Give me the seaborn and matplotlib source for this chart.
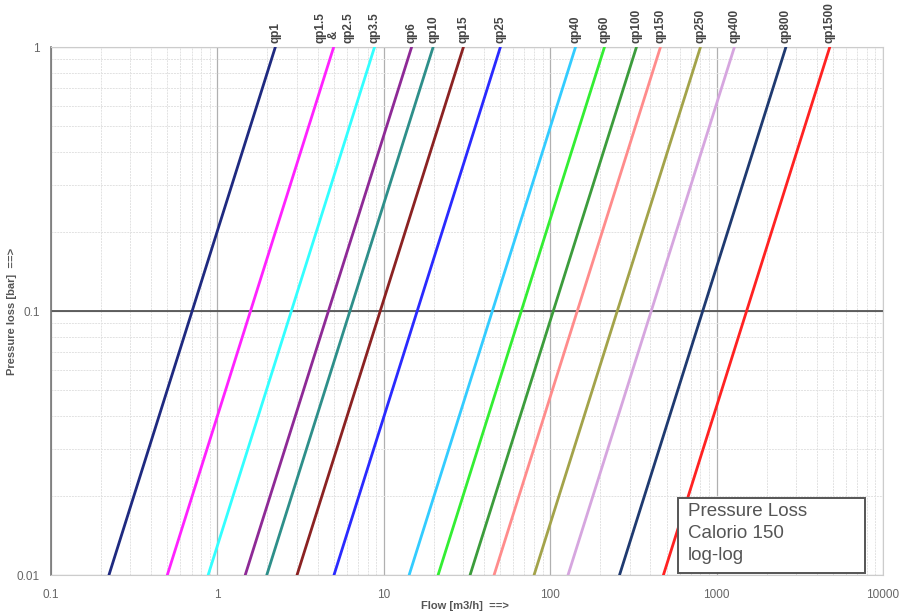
import numpy as np
import pandas as pd
import seaborn as sns
import matplotlib.pyplot as plt
from matplotlib.patches import Rectangle
from matplotlib.ticker import LogLocator, FixedLocator, FixedFormatter, NullFormatter

# meter sizes and flow [m3/h] read at 0.01 bar and at 1 bar
meters = ["qp1", "qp1.5 & qp2.5", "qp3.5", "qp6", "qp10", "qp15", "qp25",
          "qp40", "qp60", "qp100", "qp150", "qp250", "qp400", "qp800", "qp1500"]
flow_low = [0.223, 0.50, 0.88, 1.47, 1.98, 3.01, 5.02,
            14.2, 21.2, 33.0, 46.0, 80.0, 128.0, 261.0, 479.0]
flow_high = [2.23, 5.0, 8.8, 14.7, 19.8, 30.1, 50.2,
             142.0, 212.0, 330.0, 460.0, 800.0, 1280.0, 2610.0, 4790.0]
dp_low = 0.01
dp_high = 1.0
colors = ["#1f2a80", "#ff22ff", "#33ffff", "#8e2a96", "#2e8f8a", "#8b2222", "#2a2aff",
          "#33ccff", "#33ee33", "#3c9c3c", "#ff8c8c", "#a3a34a", "#d6a6df", "#1f3a70", "#ff2222"]
box_lines = ["Pressure Loss", "Calorio 150", "log-log"]

rows = []
for m, lo, hi in zip(meters, flow_low, flow_high):
    rows.append({"meter": m, "flow": lo, "dp": dp_low})
    rows.append({"meter": m, "flow": hi, "dp": dp_high})
df = pd.DataFrame(rows)

sns.set_style("white")
plt.rcParams['font.family'] = ['Liberation Sans', 'DejaVu Sans']

W, H = 901, 612
fig = plt.figure(figsize=(W / 100, H / 100), dpi=100)
ax = fig.add_axes([51 / W, 1 - 575 / H, (883 - 51) / W, (575 - 47) / H])

sns.lineplot(data=df, x="flow", y="dp", hue="meter", palette=dict(zip(meters, colors)),
             linewidth=2, legend=False, ax=ax, zorder=3)

ax.set_xscale("log")
ax.set_yscale("log")
ax.set_xlim(0.1, 10000)
ax.set_ylim(0.01, 1)

ax.xaxis.set_major_locator(FixedLocator([0.1, 1, 10, 100, 1000, 10000]))
ax.xaxis.set_major_formatter(FixedFormatter(["0.1", "1", "10", "100", "1000", "10000"]))
ax.yaxis.set_major_locator(FixedLocator([0.01, 0.1, 1]))
ax.yaxis.set_major_formatter(FixedFormatter(["0.01", "0.1", "1"]))
ax.xaxis.set_minor_locator(LogLocator(base=10, subs=np.arange(2, 10)))
ax.yaxis.set_minor_locator(LogLocator(base=10, subs=np.arange(2, 10)))
ax.xaxis.set_minor_formatter(NullFormatter())
ax.yaxis.set_minor_formatter(NullFormatter())
ax.tick_params(axis="both", which="both", length=0, labelsize=8.5, labelcolor="#666666")
ax.tick_params(axis="x", pad=10)
ax.tick_params(axis="y", pad=8)

ax.grid(which="major", color="#b0b0b0", linewidth=0.9)
ax.grid(which="minor", color="#e2e2e2", linewidth=0.7, linestyle=(0, (2, 1)))
ax.axhline(0.1, color="#555555", linewidth=1.3, zorder=2)
ax.set_axisbelow(True)

for side in ["top", "right", "bottom"]:
    ax.spines[side].set_color("#cccccc")
    ax.spines[side].set_linewidth(0.8)
ax.spines["left"].set_color("#777777")
ax.spines["left"].set_linewidth(1.2)

ax.set_xlabel("Flow [m3/h]  ==>", fontsize=8, fontweight="bold", color="#555555")
ax.set_ylabel("Pressure loss [bar]  ==>", fontsize=8, fontweight="bold", color="#555555")
ax.xaxis.set_label_coords(0.497, -0.05)
ax.yaxis.set_label_coords(-0.041, 0.5)

# meter labels above the top of each line
lbl = dict(rotation=90, fontsize=8.5, fontweight="bold", color="#444444",
           ha="center", va="bottom", clip_on=False)
for m, hi in zip(meters, flow_high):
    if "&" in m:
        ax.annotate("qp1.5", (hi, 1), xytext=(-9.5, 3), textcoords="offset points", **lbl)
        ax.annotate("&", (hi, 1), xytext=(0, 6), textcoords="offset points", **lbl)
        ax.annotate("qp2.5", (hi, 1), xytext=(10.5, 3), textcoords="offset points", **lbl)
    else:
        ax.annotate(m, (hi, 1), xytext=(0, 3), textcoords="offset points", **lbl)

# caption box (figure pixel layout)
fig.patches.append(Rectangle((678 / W, 1 - 573 / H), (865 - 678) / W, (573 - 498) / H,
                             transform=fig.transFigure, facecolor="white",
                             edgecolor="#555555", linewidth=1.4, zorder=5))
for i, t in enumerate(box_lines):
    fig.text(688 / W, 1 - (511 + 22.5 * i) / H, t, fontsize=13.5, color="#555555",
             ha="left", va="center", zorder=6)

fig.savefig("out.png", dpi=100)
